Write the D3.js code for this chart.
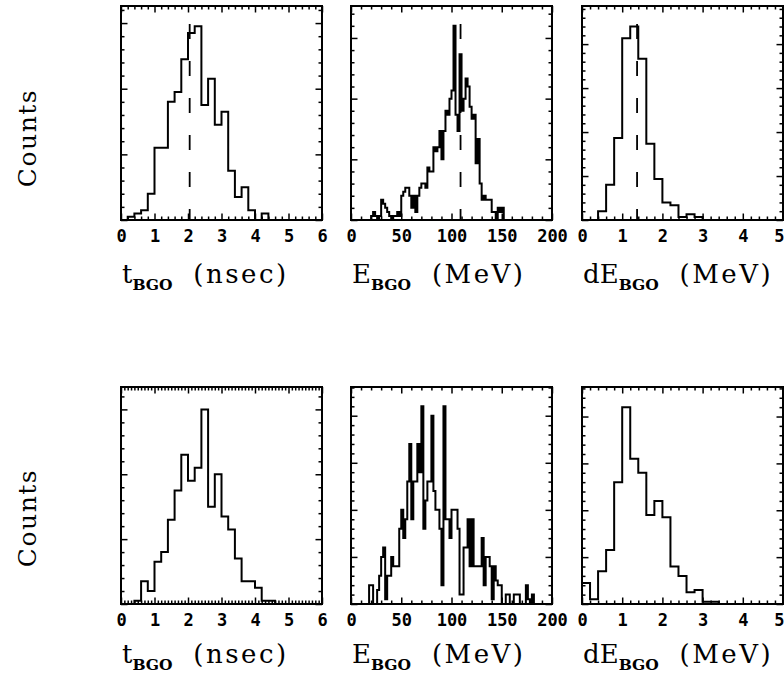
<!DOCTYPE html>
<html>
<head>
<meta charset="utf-8">
<script src="https://cdn.jsdelivr.net/npm/d3@7/dist/d3.min.js"></script>
<style>
    body { margin: 0; background: #fff; }
    svg { display: block; }
    .title { font-family: 'DejaVu Serif', serif; font-size: 26px; }
    .title .unit { letter-spacing: 2.5px; }
    .title .sub { font-weight: bold; font-size: 15.5px; }
    .ylabel { font-family: 'DejaVu Serif', serif; font-size: 25px; letter-spacing: 1.5px; }
</style>
</head>
<body>
<div id="chart"></div>
<script>
'use strict';
// Tick labels on the x axes
const tTicks = [0, 1, 2, 3, 4, 5, 6]
const eTicks = [0, 50, 100, 150, 200]
const dETicks = [0, 1, 2, 3, 4, 5]

// Bin widths (nsec, MeV, MeV)
const tBin = 0.2
const eBin = 2
const dEBin = 0.2

// Top row histograms (counts per bin, first bin edge in *Start)
const tTopStart = 0
const tTopCounts = [0, 1, 2, 3, 8, 22, 22, 36, 39, 49, 57, 59, 35, 43, 29, 33, 15, 7, 10, 3,
    0, 2, 0, 0, 0, 0, 0, 0, 0, 0]
const eTopStart = 20
const eTopCounts = [1, 2, 1, 0, 1, 5, 4, 3, 2, 1, 0, 1, 1, 2, 1, 6, 7, 8, 8, 6,
    3, 6, 2, 6, 8, 9, 9, 8, 13, 12, 12, 18, 17, 18, 22, 15, 22, 27, 26, 30,
    32, 48, 26, 22, 41, 27, 30, 35, 33, 28, 25, 26, 14, 20, 9, 5, 6, 5, 5, 5,
    2, 2, 0, 3, 2, 3]
const dETopStart = 0
const dETopCounts = [0, 0, 3, 12, 28, 62, 66, 55, 26, 14, 6, 5, 1, 2, 1, 0, 0, 0, 0, 0,
    0, 0, 0, 0, 0]

// Bottom row histograms
const tBotStart = 0
const tBotCounts = [0, 0, 1, 7, 4, 13, 16, 26, 35, 46, 38, 42, 60, 30, 40, 27, 23, 14, 7, 7,
    5, 1, 1, 0, 0, 0, 0, 0, 0, 0]
const eBotStart = 18
const eBotCounts = [4, 4, 0, 0, 3, 6, 10, 12, 1, 6, 6, 10, 8, 8, 8, 16, 20, 14, 18, 26,
    34, 18, 26, 26, 34, 28, 42, 16, 22, 26, 26, 40, 24, 20, 20, 16, 4, 42, 18, 18,
    14, 20, 20, 20, 16, 2, 2, 12, 12, 18, 8, 18, 8, 8, 8, 8, 14, 4, 10, 10,
    8, 1, 8, 5, 4, 4, 0, 0, 2, 2, 0, 0, 2, 2, 2, 0, 0, 0, 4, 1,
    0, 2]
const dEBotStart = 0
const dEBotCounts = [9, 2, 14, 23, 52, 84, 62, 56, 38, 44, 37, 16, 12, 5, 6, 1, 1, 0, 0, 0,
    0, 0, 0, 0, 0]

// Dashed cut positions (top row only)
const cutValues = [2.05, 109, 1.37]

// Axis titles: main letter, subscript, unit
const titleMain = ['t', 'E', 'dE']
const titleSub = ['BGO', 'BGO', 'BGO']
const titleUnit = [' (nsec)', ' (MeV)', ' (MeV)']

// Layout
const colX = [121, 351, 582]
const colW = 201
const rowY = [6, 387]
const rowH = [214, 217]
const titleY = [283, 663]
const countsY = [138, 518]

const panels = [
    { row: 0, col: 0, counts: tTopCounts, start: tTopStart, bin: tBin, ticks: tTicks, minor: 0.2, yMax: 65.2, yMajor: 20, cut: cutValues[0] },
    { row: 0, col: 1, counts: eTopCounts, start: eTopStart, bin: eBin, ticks: eTicks, minor: 10, yMax: 52.9, yMajor: 15, cut: cutValues[1] },
    { row: 0, col: 2, counts: dETopCounts, start: dETopStart, bin: dEBin, ticks: dETicks, minor: 0.2, yMax: 73, yMajor: 15, cut: cutValues[2] },
    { row: 1, col: 0, counts: tBotCounts, start: tBotStart, bin: tBin, ticks: tTicks, minor: 0.1, yMax: 66.9, yMajor: 20 },
    { row: 1, col: 1, counts: eBotCounts, start: eBotStart, bin: eBin, ticks: eTicks, minor: 10, yMax: 46.1, yMajor: 10 },
    { row: 1, col: 2, counts: dEBotCounts, start: dEBotStart, bin: dEBin, ticks: dETicks, minor: 0.2, yMax: 92.6, yMajor: 20 }
]

const svg = d3.select('#chart')
    .append('svg')
    .attr('width', 784)
    .attr('height', 681)

function steps(lo, hi, step) {
    const n = Math.floor((hi - lo) / step + 1e-6)
    return d3.range(n + 1).map(i => +(lo + i * step).toFixed(6))
}

function drawPanel(p, idx) {
    const w = colW
    const h = rowH[p.row]
    const g = svg.append('g')
        .attr('transform', `translate(${colX[p.col]},${rowY[p.row]})`)

    const xDom = [p.ticks[0], p.ticks[p.ticks.length - 1]]
    const x = d3.scaleLinear().domain(xDom).range([0, w])
    const y = d3.scaleLinear().domain([0, p.yMax]).range([h, 0])

    // clip for the histogram
    g.append('clipPath').attr('id', `clip${idx}`)
        .append('rect').attr('width', w).attr('height', h)

    // histogram outline
    const pts = [[p.start, 0]]
    p.counts.forEach((c, i) => pts.push([p.start + i * p.bin, c]))
    pts.push([p.start + p.counts.length * p.bin, 0])
    const line = d3.line()
        .x(d => x(d[0]))
        .y(d => y(d[1]))
        .curve(d3.curveStepAfter)
    g.append('path').datum(pts)
        .attr('clip-path', `url(#clip${idx})`)
        .attr('d', line)
        .attr('fill', 'none')
        .attr('stroke', '#000')
        .attr('stroke-width', 2)
        .attr('stroke-linejoin', 'miter')

    // dashed cut line
    if (p.cut !== undefined) {
        g.append('line')
            .attr('x1', x(p.cut)).attr('x2', x(p.cut))
            .attr('y1', h).attr('y2', 0)
            .attr('stroke', '#000')
            .attr('stroke-width', 1.8)
            .attr('stroke-dasharray', '15,22')
            .attr('stroke-dashoffset', 4)
    }

    // inward ticks on all four sides
    const xMaj = p.ticks
    const xMin = steps(xDom[0], xDom[1], p.minor).filter(v => !xMaj.includes(v))
    const yMaj = steps(0, p.yMax, p.yMajor)
    const yMin = steps(0, p.yMax, p.yMajor / 5).filter(v => !yMaj.includes(v))
    const tickAxis = (gen, tr) => g.append('g')
        .attr('transform', tr)
        .call(gen)
        .call(s => s.select('.domain').remove())
        .call(s => s.selectAll('line').attr('stroke-width', 1.5))
    tickAxis(d3.axisBottom(x).tickValues(xMaj).tickSize(-6.5).tickFormat(''), `translate(0,${h})`)
    tickAxis(d3.axisBottom(x).tickValues(xMin).tickSize(-3.5).tickFormat(''), `translate(0,${h})`)
    tickAxis(d3.axisTop(x).tickValues(xMaj).tickSize(-6.5).tickFormat(''), 'translate(0,0)')
    tickAxis(d3.axisTop(x).tickValues(xMin).tickSize(-3.5).tickFormat(''), 'translate(0,0)')
    tickAxis(d3.axisLeft(y).tickValues(yMaj).tickSize(-6.5).tickFormat(''), 'translate(0,0)')
    tickAxis(d3.axisLeft(y).tickValues(yMin).tickSize(-3.5).tickFormat(''), 'translate(0,0)')
    tickAxis(d3.axisRight(y).tickValues(yMaj).tickSize(-6.5).tickFormat(''), `translate(${w},0)`)
    tickAxis(d3.axisRight(y).tickValues(yMin).tickSize(-3.5).tickFormat(''), `translate(${w},0)`)

    // tick labels
    const labels = g.append('g')
        .attr('transform', `translate(0,${h})`)
        .call(d3.axisBottom(x).tickValues(xMaj).tickSize(0).tickPadding(10).tickFormat(d => d))
        .call(s => s.select('.domain').remove())
        .attr('font-family', "'DejaVu Sans Mono', monospace")
        .attr('font-weight', 'bold')
        .attr('font-size', 17)
    // last label of the right-hand panels sits at the page edge
    if (p.col === 2) {
        labels.selectAll('.tick text')
            .filter(d => d === xDom[1])
            .attr('text-anchor', 'end')
            .attr('x', 1)
    }

    // frame
    g.append('rect')
        .attr('width', w).attr('height', h)
        .attr('fill', 'none')
        .attr('stroke', '#000')
        .attr('stroke-width', 2)

    // axis title
    const t = svg.append('text')
        .attr('class', 'title')
        .attr('x', colX[p.col] + 1)
        .attr('y', titleY[p.row])
    t.append('tspan').text(titleMain[p.col])
    t.append('tspan').attr('class', 'sub').attr('dy', 7).text(titleSub[p.col])
    t.append('tspan').attr('class', 'unit').attr('dy', -7).attr('dx', 10).text(titleUnit[p.col])
}

panels.forEach(drawPanel)

// y axis label for each row
rowY.forEach((ry, r) => {
    svg.append('text')
        .attr('class', 'ylabel')
        .attr('transform', `translate(36,${countsY[r]}) rotate(-90)`)
        .attr('text-anchor', 'middle')
        .text('Counts')
})
</script>
</body>
</html>
